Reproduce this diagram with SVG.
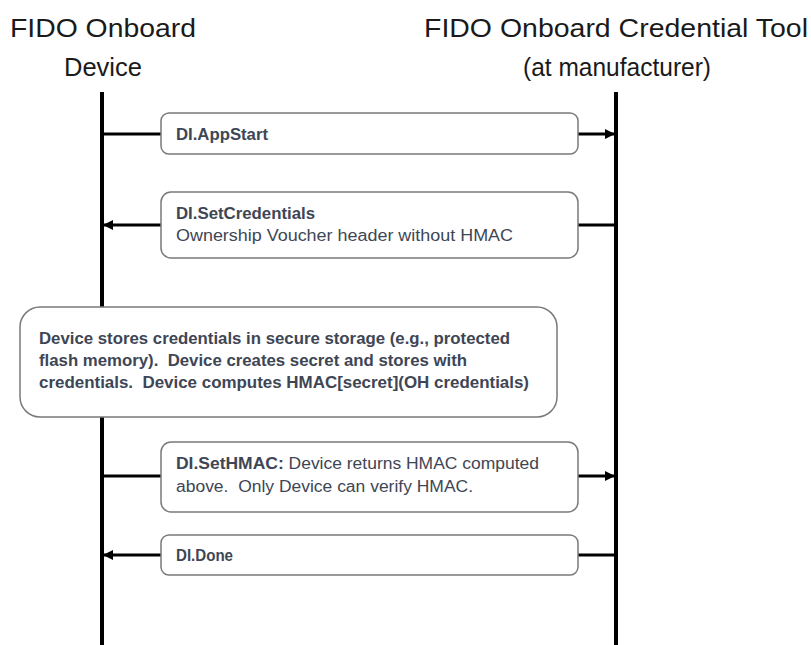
<svg xmlns="http://www.w3.org/2000/svg" width="811" height="645" viewBox="0 0 811 645">
<defs>
<marker id="ah" viewBox="0 0 10 10" refX="9" refY="5" markerWidth="10" markerHeight="10" markerUnits="userSpaceOnUse" orient="auto">
<path d="M0,0 L10,5 L0,10 z" fill="#000"/>
</marker>
</defs>
<style>
.title{font-family:"Liberation Sans",Arial,sans-serif;font-size:26px;fill:#1a1a1a;text-anchor:middle}
.life{stroke:#000;stroke-width:4}
.box{fill:#fff;stroke:#7a7a7a;stroke-width:1.5}
.msg{font-family:"Liberation Sans",Arial,sans-serif;font-size:16px;fill:#3e4655}
.b{font-weight:bold}
.conn{stroke:#000;stroke-width:3;fill:none}
</style>
<g id="lifeline-device">
<text class="title" x="103" y="37" textLength="186" lengthAdjust="spacingAndGlyphs">FIDO Onboard</text>
<text class="title" x="103" y="76" textLength="78" lengthAdjust="spacingAndGlyphs">Device</text>
<line class="life" x1="102" y1="92" x2="102" y2="645"/>
</g>
<g id="lifeline-tool">
<text class="title" x="616" y="37" textLength="384" lengthAdjust="spacingAndGlyphs">FIDO Onboard Credential Tool</text>
<text class="title" x="617" y="76" textLength="188" lengthAdjust="spacingAndGlyphs">(at manufacturer)</text>
<line class="life" x1="616" y1="92" x2="616" y2="645"/>
</g>
<g id="connectors">
<line class="conn" x1="102" y1="134" x2="161" y2="134"/>
<line class="conn" x1="578" y1="134" x2="614" y2="134" marker-end="url(#ah)"/>
<line class="conn" x1="616" y1="225" x2="578" y2="225"/>
<line class="conn" x1="161" y1="225" x2="104" y2="225" marker-end="url(#ah)"/>
<line class="conn" x1="102" y1="476" x2="161" y2="476"/>
<line class="conn" x1="578" y1="476" x2="614" y2="476" marker-end="url(#ah)"/>
<line class="conn" x1="616" y1="555" x2="578" y2="555"/>
<line class="conn" x1="161" y1="555" x2="104" y2="555" marker-end="url(#ah)"/>
</g>
<g id="msg-appstart">
<rect class="box" x="161" y="113" width="417" height="41" rx="8"/>
<text class="msg b" x="176" y="140" textLength="92" lengthAdjust="spacingAndGlyphs">DI.AppStart</text>
</g>
<g id="msg-setcredentials">
<rect class="box" x="161" y="192" width="417" height="66" rx="10"/>
<text class="msg b" x="176" y="219" textLength="139" lengthAdjust="spacingAndGlyphs">DI.SetCredentials</text>
<text class="msg" x="176" y="241" textLength="337" lengthAdjust="spacingAndGlyphs">Ownership Voucher header without HMAC</text>
</g>
<g id="note-device">
<rect class="box" x="20" y="307" width="537" height="110" rx="20"/>
<text class="msg b" x="39" y="344" textLength="471" lengthAdjust="spacingAndGlyphs">Device stores credentials in secure storage (e.g., protected</text>
<text class="msg b" x="39" y="366" textLength="428" lengthAdjust="spacingAndGlyphs" xml:space="preserve">flash memory).  Device creates secret and stores with</text>
<text class="msg b" x="39" y="388" textLength="490" lengthAdjust="spacingAndGlyphs" xml:space="preserve">credentials.  Device computes HMAC[secret](OH credentials)</text>
</g>
<g id="msg-sethmac">
<rect class="box" x="161" y="442" width="417" height="70" rx="10"/>
<text class="msg" x="176" y="469" textLength="363" lengthAdjust="spacingAndGlyphs"><tspan class="b">DI.SetHMAC:</tspan> Device returns HMAC computed</text>
<text class="msg" x="176" y="492" textLength="297" lengthAdjust="spacingAndGlyphs" xml:space="preserve">above.  Only Device can verify HMAC.</text>
</g>
<g id="msg-done">
<rect class="box" x="161" y="535" width="417" height="40" rx="8"/>
<text class="msg b" x="176" y="561" textLength="57" lengthAdjust="spacingAndGlyphs">DI.Done</text>
</g>
</svg>
